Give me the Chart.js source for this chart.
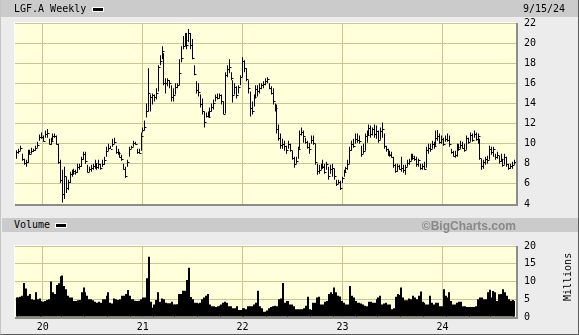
<!DOCTYPE html>
<html>
<head>
<meta charset="utf-8">
<script src="https://cdn.jsdelivr.net/npm/chart.js@4.4.1/dist/chart.umd.min.js"></script>
<style>
body { margin: 0; }
#frame { position: relative; width: 579px; height: 335px; background: #ececec; overflow: hidden;
  font-family: "DejaVu Sans Mono", monospace; font-size: 10px; color: #000; box-sizing: border-box;
  border-left: 1px solid #c4c4c4; border-right: 1px solid #5a5a5a; border-bottom: 1px solid #5a5a5a; }
.band { position: absolute; background: #cbcbcb; }
.txt { position: absolute; line-height: 12px; white-space: nowrap; }
.swatch { position: absolute; width: 10px; height: 3px; background: #000; border: 1px solid #fff; }
canvas { position: absolute; left: 0; }
</style>
</head>
<body>
<div id="frame">
  <div class="band" style="left:0;top:0;width:579px;height:17px"></div>
  <div class="band" style="left:1px;top:218px;width:578px;height:14px"></div>
  <canvas id="price" width="579" height="218" style="top:0"></canvas>
  <canvas id="vol" width="579" height="103" style="top:232px"></canvas>
  <div class="txt" style="left:13px;top:3px">LGF.A Weekly</div>
  <div class="swatch" style="left:91px;top:7px"></div>
  <div class="txt" style="left:522px;top:3px">9/15/24</div>
  <div class="txt" style="left:13px;top:219px">Volume</div>
  <div class="swatch" style="left:54px;top:223px"></div>
  <div class="txt" style="right:62px;top:219px;font:bold 12px 'Liberation Sans',Arial,sans-serif;color:#888">©BigCharts.com</div>
  <div class="txt" style="left:543px;top:271px;width:48px;text-align:center;transform:rotate(-90deg)">Millions</div>
</div>
<script>
// weekly bars, week 0 = week of 9/20/19, last = week of 9/13/24
const yearTicks = [13.7, 65.9, 118.0, 170.2, 222.4];
const yearLabels = ['20', '21', '22', '23', '24'];

const highs = [
  9.35,9.5,9.8,9.0,8.5,8.4,9.4,9.4,9.6,9.5,
  9.8,10.2,10.9,11.1,10.8,11.3,11.45,10.5,10.6,11.0,
  11.0,10.8,10.0,8.4,7.4,7.7,6.7,6.4,7.2,7.4,
  7.5,7.4,8.0,8.0,8.7,9.2,9.2,7.9,7.7,7.9,
  8.0,8.4,8.0,8.4,8.0,8.4,8.7,9.7,10.0,9.8,
  10.5,10.6,9.8,9.5,9.2,8.9,8.0,7.7,8.4,9.7,
  9.8,10.3,10.2,9.5,9.5,11.1,11.6,12.3,14.0,17.5,
  14.9,15.0,14.9,15.5,17.8,18.8,19.7,19.0,16.5,16.5,
  16.3,15.8,15.5,16.0,16.0,18.4,19.7,20.7,21.0,21.0,
  21.4,21.0,20.4,17.8,16.2,16.0,14.9,14.5,13.2,13.1,
  13.2,13.6,14.0,14.4,14.9,15.0,15.0,14.9,14.2,17.1,
  17.8,18.4,17.1,16.3,16.0,15.7,15.8,16.8,18.6,18.3,
  17.5,16.3,15.2,14.2,14.9,15.8,15.8,16.0,16.0,16.2,
  16.5,16.6,16.0,15.7,15.5,14.0,13.9,11.9,11.0,10.5,
  10.3,9.8,10.3,10.0,9.3,8.7,8.7,9.7,11.3,11.6,
  11.3,10.6,10.3,10.1,10.8,10.8,10.0,8.0,7.9,8.0,
  8.4,8.0,8.2,7.7,7.9,8.0,7.5,6.4,6.4,6.3,
  6.7,7.4,7.7,8.4,9.7,10.3,10.5,11.0,11.0,10.8,
  9.8,10.0,11.0,11.3,11.9,11.8,11.6,11.9,11.8,11.3,
  11.6,12.1,11.0,9.8,9.5,9.3,9.2,8.7,8.0,8.0,
  7.9,8.7,7.9,7.9,8.4,8.5,9.0,9.0,8.8,8.7,
  8.5,8.0,8.0,8.2,9.7,10.0,10.0,10.3,10.2,11.3,
  11.35,11.0,10.8,10.6,10.8,11.0,10.8,9.5,9.3,9.3,
  10.0,10.0,10.3,10.2,10.0,10.8,10.6,11.1,11.0,11.3,
  11.1,11.0,10.5,8.5,8.4,8.7,8.8,9.8,9.7,9.7,
  9.0,9.2,8.8,9.0,8.5,9.0,8.7,8.0,8.0,8.2,
  8.4
];
const lows = [
  8.5,9.0,9.3,8.3,7.9,7.7,8.1,8.9,9.0,9.2,
  9.3,9.6,10.3,10.5,10.2,10.6,10.6,9.9,9.9,10.3,
  10.6,9.9,8.0,6.1,4.15,4.5,5.1,5.4,6.1,6.7,
  6.9,6.9,7.1,7.4,7.7,8.4,8.0,7.1,7.2,7.2,
  7.4,7.5,7.4,7.5,7.4,7.7,7.9,8.7,9.3,9.5,
  9.7,10.0,9.0,8.9,8.6,8.3,7.4,6.6,7.7,8.7,
  9.5,9.7,9.9,9.0,9.0,9.3,11.1,11.3,12.6,13.2,
  13.2,13.9,14.2,14.4,15.2,17.8,18.4,15.8,15.0,15.7,
  15.5,14.2,14.2,14.9,15.5,15.8,18.1,19.4,19.7,19.4,
  20.1,19.4,18.4,16.8,15.0,14.7,13.6,12.9,11.6,12.6,
  12.6,12.6,13.2,13.4,14.2,14.4,14.5,13.9,12.9,13.0,
  16.6,17.0,16.3,14.1,14.9,14.5,15.0,15.8,16.6,17.1,
  16.2,15.0,12.7,12.9,13.7,14.5,14.7,15.0,15.4,15.5,
  15.8,16.0,15.4,14.9,13.9,13.2,11.0,10.3,9.5,9.5,
  9.3,9.0,9.5,9.2,8.4,7.6,8.0,8.5,9.5,10.8,
  10.1,10.0,9.5,9.0,10.0,9.9,7.9,6.9,7.0,7.4,
  7.5,7.0,7.4,6.4,7.0,6.7,6.4,5.8,6.0,5.4,
  6.1,6.7,7.1,7.4,8.0,9.3,9.6,10.0,10.1,10.0,
  8.7,9.0,9.3,10.1,10.8,10.6,10.8,10.6,10.5,10.1,
  10.4,10.6,9.5,9.2,8.8,8.7,8.6,7.6,7.1,7.2,
  7.4,7.2,7.1,6.9,7.7,7.9,8.3,8.4,8.3,7.7,
  7.7,7.4,7.4,7.4,7.6,9.0,9.2,9.5,9.5,9.8,
  10.3,10.0,10.0,9.8,10.2,10.2,9.7,9.0,8.7,8.6,
  8.7,9.3,9.5,9.5,9.2,9.4,10.0,10.2,10.2,10.6,
  10.3,10.0,8.4,7.4,7.5,7.9,8.0,8.4,8.9,8.7,
  8.4,8.5,8.0,8.2,7.7,7.9,7.7,7.4,7.5,7.5,
  7.9
];
const closes = [
  9.2,9.3,9.6,8.5,8.1,8.2,9.2,9.0,9.3,9.4,
  9.6,9.9,10.7,10.7,10.3,11.0,11.1,10.0,10.3,10.8,
  10.8,10.0,8.2,6.4,5.0,6.8,5.6,6.2,7.0,7.1,
  7.3,7.2,7.7,7.8,8.5,9.0,8.3,7.2,7.5,7.6,
  7.8,8.1,7.7,8.0,7.6,8.0,8.4,9.3,9.6,9.5,
  10.0,10.2,9.2,9.1,8.7,8.5,7.5,6.8,8.2,9.5,
  9.7,10.1,10.0,9.2,9.1,10.8,11.4,11.7,13.2,15.0,
  14.6,14.8,14.6,15.0,17.6,18.2,19.2,16.0,16.0,16.3,
  16.0,14.6,14.8,15.6,15.8,17.0,18.5,19.7,20.3,19.8,
  21.0,19.8,18.5,16.9,15.3,15.1,13.9,13.2,12.2,12.8,
  12.7,13.2,13.6,14.0,14.6,14.5,14.8,14.2,13.0,16.8,
  17.4,17.6,16.5,14.8,15.6,14.8,15.6,16.6,18.2,17.5,
  16.4,15.5,13.5,13.2,14.6,15.4,15.2,15.5,15.8,15.9,
  16.2,16.4,15.5,15.0,14.2,13.5,11.5,10.6,9.9,10.0,
  9.8,9.4,10.0,9.4,8.6,8.0,8.3,9.5,11.0,11.2,
  10.8,10.2,9.7,9.5,10.4,10.1,8.2,7.3,7.4,7.8,
  7.7,7.2,8.0,6.8,7.5,7.6,6.8,6.0,6.2,5.6,
  6.6,7.2,7.6,8.0,9.4,10.0,9.8,10.5,10.4,10.3,
  9.0,9.3,10.8,10.9,11.6,11.0,11.5,11.0,11.3,10.4,
  11.3,11.5,9.8,9.5,9.0,8.9,8.7,7.9,7.3,7.8,
  7.5,7.6,7.4,7.7,8.1,8.3,8.8,8.6,8.5,8.0,
  8.4,7.6,7.8,7.5,9.4,9.6,9.5,10.0,9.8,10.6,
  10.8,10.2,10.5,10.0,10.5,10.4,10.0,9.2,8.8,8.9,
  9.7,9.5,9.9,9.6,9.4,10.6,10.2,10.9,10.4,11.0,
  10.5,10.8,8.6,7.8,8.2,8.5,8.4,9.5,9.2,9.5,
  8.7,8.9,8.3,8.5,7.9,8.7,8.0,7.6,7.8,7.9,
  8.2
];
// millions of shares
const volumes = [
  5.5,5.5,5.7,6.0,9.6,8.0,6.0,6.5,5.0,4.8,
  7.0,5.0,5.2,4.5,4.3,4.5,4.8,5.0,10.0,7.0,
  6.5,9.0,9.5,11.5,11.7,8.7,7.8,6.0,5.5,5.5,
  4.5,4.5,4.7,4.8,7.0,8.3,7.0,6.0,5.0,5.0,
  4.7,4.3,4.0,4.3,4.0,5.0,5.0,6.0,7.0,4.0,
  3.8,5.2,5.0,4.8,5.0,6.0,6.0,6.5,7.6,6.0,
  5.0,5.0,4.6,4.5,4.6,5.0,5.5,5.5,10.9,17.0,
  4.3,2.6,3.5,4.8,7.0,4.3,5.2,5.0,4.0,3.9,
  3.9,4.3,3.5,3.5,3.6,6.5,6.5,7.4,7.4,10.4,
  13.9,5.6,5.0,4.0,4.0,3.8,4.0,5.0,5.5,6.0,
  6.5,3.5,3.0,3.0,2.8,3.0,3.2,3.5,4.0,4.3,
  4.0,3.0,3.0,2.5,2.5,3.0,2.0,2.0,2.5,2.5,
  2.2,3.0,3.0,3.0,3.5,4.0,7.4,3.0,2.5,1.5,
  1.5,1.8,2.5,2.8,3.0,3.2,3.0,5.0,5.2,9.6,
  4.0,4.5,4.5,3.5,3.5,3.0,2.2,2.2,2.2,2.2,
  2.5,3.2,5.7,2.2,2.0,4.0,4.0,5.5,5.7,3.5,
  3.5,4.3,4.5,6.5,7.0,6.5,8.3,7.0,6.0,5.8,
  4.5,4.0,3.5,3.5,8.7,6.0,5.5,4.5,4.0,4.0,
  3.8,3.5,3.2,3.0,4.3,4.3,4.0,4.0,5.0,5.5,
  6.0,3.5,3.8,4.0,3.5,3.5,2.2,2.5,5.7,6.5,
  6.2,8.3,5.5,4.7,4.7,5.2,5.0,6.0,5.5,5.0,
  6.0,7.2,4.3,4.0,3.5,3.5,6.0,4.0,3.5,4.0,
  4.0,3.0,3.0,7.8,6.0,5.5,7.0,4.5,3.5,3.5,
  4.0,4.3,4.3,3.0,3.0,2.8,2.8,2.8,2.8,2.8,
  3.0,5.0,5.5,5.5,5.0,5.0,7.0,7.7,5.5,7.3,
  7.0,4.5,6.4,6.5,7.8,7.0,6.0,5.0,4.6,4.8,
  4.5
];

const gridColor = '#cac690';
const tickFont = { family: 'DejaVu Sans Mono', size: 10 };

function ditherFill(ctx) {
  const c = document.createElement('canvas');
  c.width = 2; c.height = 2;
  const g = c.getContext('2d');
  g.fillStyle = '#ffffc6';
  g.fillRect(0, 0, 2, 2);
  g.fillStyle = '#fffff0';
  g.fillRect(0, 0, 1, 1);
  g.fillRect(1, 1, 1, 1);
  return ctx.createPattern(c, 'repeat');
}

const plotFrame = {
  id: 'plotFrame',
  beforeDraw(chart) {
    const { ctx, chartArea: a } = chart;
    ctx.save();
    ctx.fillStyle = ditherFill(ctx);
    ctx.fillRect(a.left, a.top, a.width, a.height);
    ctx.restore();
  },
  afterDraw(chart) {
    const { ctx, chartArea: a } = chart;
    ctx.save();
    ctx.lineWidth = 1;
    ctx.strokeStyle = '#ffffff';
    ctx.beginPath();
    ctx.moveTo(a.left - 0.5, a.bottom);
    ctx.lineTo(a.left - 0.5, a.top - 0.5);
    ctx.lineTo(a.right, a.top - 0.5);
    ctx.stroke();
    ctx.lineWidth = 2;
    ctx.strokeStyle = '#8c8c8c';
    ctx.beginPath();
    ctx.moveTo(a.left, a.bottom + 1);
    ctx.lineTo(a.right + 1, a.bottom + 1);
    ctx.lineTo(a.right + 1, a.top);
    ctx.stroke();
    ctx.restore();
  }
};

// snap bar centres to whole pixels so thin bars stay crisp black
const snapBars = {
  id: 'snapBars',
  beforeDatasetsDraw(chart) {
    const odd = chart.canvas.id === 'price';
    chart.getDatasetMeta(0).data.forEach(function (el) {
      el.x = odd ? Math.floor(el.x) + 0.5 : Math.round(el.x);
    });
  }
};

const closeTicks = {
  id: 'closeTicks',
  afterDatasetsDraw(chart) {
    if (chart.canvas.id !== 'price') return;
    const y = chart.scales.y, ctx = chart.ctx;
    const bars = chart.getDatasetMeta(0).data;
    ctx.save();
    ctx.strokeStyle = '#000';
    ctx.lineWidth = 1;
    ctx.beginPath();
    closes.forEach(function (c, i) {
      const px = bars[i].x + 0.5;
      const py = Math.round(y.getPixelForValue(c)) + 0.5;
      ctx.moveTo(px, py);
      ctx.lineTo(px + 1.5, py);
    });
    ctx.stroke();
    ctx.restore();
  }
};

function yearAxis(showLabels) {
  return {
    type: 'linear',
    min: -0.8,
    max: 260.8,
    offset: false,
    afterBuildTicks: function (scale) {
      scale.ticks = yearTicks.map(function (v) { return { value: v }; });
    },
    afterFit: function (scale) { scale.height = showLabels ? 14 : 0; },
    grid: { color: gridColor, lineWidth: 1, drawTicks: false, offset: false },
    border: { display: false },
    ticks: {
      display: showLabels,
      autoSkip: false,
      maxRotation: 0,
      padding: 4,
      color: '#000',
      font: tickFont,
      callback: function (value, index) { return yearLabels[index]; }
    }
  };
}

function rightAxis(min, max, step) {
  return {
    position: 'right',
    min: min,
    max: max,
    afterFit: function (scale) { scale.width = 64; },
    grid: { color: gridColor, lineWidth: 1, drawTicks: false },
    border: { display: false },
    ticks: { stepSize: step, padding: 8, color: '#000', font: tickFont }
  };
}

Chart.defaults.animation = false;

new Chart(document.getElementById('price'), {
  type: 'bar',
  data: {
    datasets: [{
      data: highs.map(function (h, i) { return { x: i, y: [lows[i], h] }; }),
      backgroundColor: '#000',
      borderWidth: 0,
      inflateAmount: 0,
      barThickness: 1
    }]
  },
  options: {
    responsive: false,
    devicePixelRatio: 1,
    layout: { padding: { left: 14, top: 23, right: 0, bottom: 10 } },
    plugins: { legend: { display: false }, tooltip: { enabled: false } },
    scales: { x: yearAxis(false), y: rightAxis(4, 22, 2) }
  },
  plugins: [plotFrame, snapBars, closeTicks]
});

new Chart(document.getElementById('vol'), {
  type: 'bar',
  data: {
    datasets: [{
      data: volumes.map(function (v, i) { return { x: i, y: v }; }),
      backgroundColor: '#000',
      borderWidth: 0,
      inflateAmount: 0,
      barThickness: 2
    }]
  },
  options: {
    responsive: false,
    devicePixelRatio: 1,
    layout: { padding: { left: 14, top: 7, right: 0, bottom: 4 } },
    plugins: { legend: { display: false }, tooltip: { enabled: false } },
    scales: { x: yearAxis(true), y: rightAxis(0, 20, 5) }
  },
  plugins: [plotFrame, snapBars]
});
</script>
</body>
</html>
